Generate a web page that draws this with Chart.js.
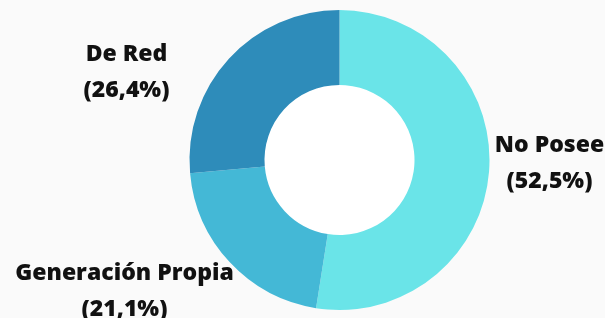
<!DOCTYPE html>
<html>
<head>
<meta charset="utf-8">
<script src="https://cdn.jsdelivr.net/npm/chart.js@4.4.1/dist/chart.umd.min.js"></script>
<style>
  html, body { margin: 0; padding: 0; background: #fafafa; }
  #wrap { width: 605px; height: 318px; position: relative; }
</style>
</head>
<body>
<div id="wrap"><canvas id="chart"></canvas></div>
<script>
// datos
const categories = ['No Posee', 'Generación Propia', 'De Red'];
const values = [52.5, 21.1, 26.4];
const colors = ['#6ae4e8', '#44b8d6', '#2e8cba'];

// desplazamiento de cada etiqueta respecto al centro del anillo
const labelShift = [[210, 3], [-215, 131], [-213, -88]];

const fmt = v => '(' + v.toFixed(1).replace('.', ',') + '%)';

// etiquetas fuera del anillo + hueco blanco
const outLabels = {
    id: 'outLabels',
    beforeDatasetsDraw(chart) {
        const arc = chart.getDatasetMeta(0).data[0];
        if (!arc) return;
        const ctx = chart.ctx;
        ctx.save();
        ctx.fillStyle = '#ffffff';
        ctx.beginPath();
        ctx.arc(arc.x, arc.y, arc.innerRadius + 1, 0, Math.PI * 2);
        ctx.fill();
        ctx.restore();
    },
    afterDatasetsDraw(chart) {
        const ctx = chart.ctx;
        const meta = chart.getDatasetMeta(0);
        ctx.save();
        ctx.font = '800 23px "Open Sans"';
        ctx.fillStyle = '#111111';
        ctx.textAlign = 'center';
        ctx.textBaseline = 'middle';
        meta.data.forEach((a, i) => {
            const x = a.x + labelShift[i][0];
            const y = a.y + labelShift[i][1];
            ctx.fillText(categories[i], x, y - 18);
            ctx.fillText(fmt(values[i]), x, y + 18);
        });
        ctx.restore();
    }
};

new Chart(document.getElementById('chart'), {
    type: 'doughnut',
    data: {
        labels: categories,
        datasets: [{ data: values, backgroundColor: colors, borderWidth: 0 }]
    },
    options: {
        responsive: true,
        maintainAspectRatio: false,
        animation: false,
        cutout: '50%',
        layout: { padding: { left: 74, right: 0, top: 10, bottom: 8 } },
        plugins: { legend: { display: false }, tooltip: { enabled: false } }
    },
    plugins: [outLabels]
});
</script>
</body>
</html>
